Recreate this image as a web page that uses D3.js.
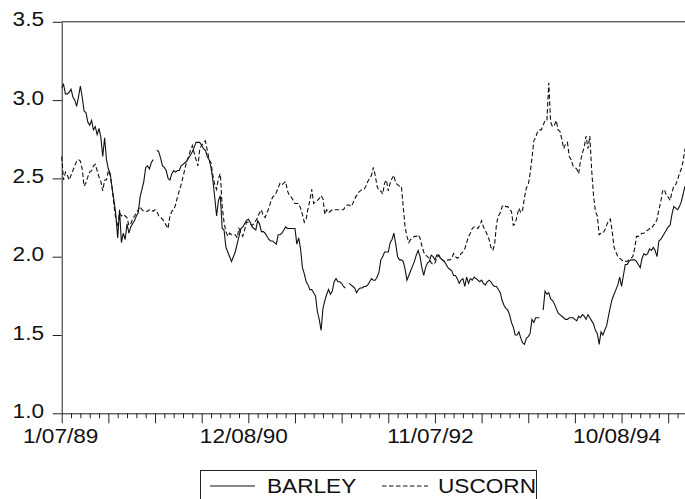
<!DOCTYPE html>
<html>
<head>
<meta charset="utf-8">
<script src="https://cdn.jsdelivr.net/npm/d3@7"></script>
<style>
  html, body { margin: 0; padding: 0; background: #fff; }
  svg { display: block; }
  text { font-family: "Liberation Sans", Arial, Helvetica, sans-serif; fill: #111; }
</style>
</head>
<body>
<svg id="chart" width="685" height="499"></svg>
<script>
// Weekly prices, first observation 1/07/89 (null = missing week)
const barley = [
  3.08,3.10,3.04,3.04,3.05,3.07,3.02,3.00,2.96,3.02,
  3.09,3.02,2.93,2.92,2.86,2.84,2.87,2.81,2.83,2.78,
  2.82,2.76,2.64,2.76,2.62,2.56,2.53,2.44,2.36,2.27,
  2.12,2.30,2.09,2.15,2.11,2.21,2.15,2.19,2.21,2.23,
  2.26,2.28,2.38,2.43,2.48,2.57,2.58,2.56,2.60,2.62,
  null,2.68,2.67,2.63,2.58,2.57,2.55,2.50,2.49,2.53,
  2.55,2.54,2.55,2.55,2.58,2.59,2.60,2.61,2.63,2.65,
  2.67,2.70,2.73,2.73,2.73,2.71,2.69,2.68,2.64,2.62,
  2.57,2.49,2.38,2.26,2.36,2.39,2.18,2.17,2.06,2.03,
  2.00,1.97,2.00,2.03,2.08,2.13,2.18,2.19,2.21,2.23,
  2.24,2.22,2.19,2.18,2.17,2.23,2.21,2.16,2.16,2.15,
  2.13,2.11,2.10,2.10,2.09,2.08,2.14,2.14,2.15,2.17,
  2.19,2.18,2.18,2.18,2.18,2.18,2.08,2.12,2.05,1.93,
  1.89,1.84,1.82,1.79,1.79,1.77,1.75,1.65,1.60,1.53,
  1.67,1.72,1.76,1.79,1.76,1.78,1.84,1.86,1.84,1.84,
  1.83,1.81,1.80,null,1.83,1.82,1.81,1.80,1.77,1.79,
  1.80,1.80,1.81,1.81,1.82,1.84,1.86,1.85,1.85,1.87,
  1.90,1.98,2.00,2.03,2.03,2.03,2.09,2.11,2.15,2.08,
  2.00,1.98,1.98,1.97,1.92,1.85,1.88,1.91,1.94,1.97,
  2.01,2.04,2.00,1.93,1.88,1.93,1.96,1.97,2.01,2.00,
  1.98,2.01,2.01,1.99,1.98,1.97,1.95,1.93,1.92,1.91,
  1.88,1.88,1.86,1.83,1.85,1.86,1.81,1.87,1.83,1.86,
  1.85,1.87,1.86,1.85,1.84,1.85,1.83,1.82,1.84,1.85,
  1.84,1.82,1.81,1.81,1.79,1.77,1.72,1.69,1.67,1.66,
  1.63,1.58,1.55,1.50,1.50,1.52,1.48,1.45,1.44,1.48,
  1.49,1.51,1.60,1.58,1.61,1.61,1.61,null,1.66,1.78,
  1.76,1.77,1.73,1.72,1.70,1.67,1.64,1.63,1.62,1.61,
  1.60,1.60,1.61,1.61,1.61,1.60,1.59,1.62,1.61,1.63,
  1.62,1.60,1.63,1.61,1.59,1.57,1.53,1.51,1.44,1.52,
  1.50,1.53,1.56,1.62,1.68,1.73,1.76,1.79,1.82,1.87,
  1.81,1.88,1.95,1.95,1.97,1.98,1.98,1.98,1.97,1.95,
  1.93,1.99,2.02,2.01,2.02,2.05,2.04,2.06,2.04,2.00,
  2.10,2.11,2.13,2.15,2.17,2.19,2.20,2.27,2.32,2.31,
  2.30,2.32,2.35,2.40,2.45
];

const uscorn = [
  2.64,2.49,2.54,2.52,2.49,2.52,2.55,2.58,2.61,2.62,
  2.61,2.56,2.45,2.47,2.51,2.54,2.55,2.58,2.59,2.55,
  2.51,2.48,2.42,2.49,2.49,2.55,2.52,2.44,2.33,2.24,
  2.19,2.28,2.26,2.27,2.26,2.25,2.20,2.21,2.24,2.26,
  2.28,2.30,2.32,2.30,2.29,2.29,2.29,2.30,2.30,2.29,
  2.30,2.29,2.26,2.25,2.24,2.22,2.20,2.18,2.26,2.29,
  2.30,2.33,2.38,2.42,2.46,2.51,2.56,2.61,2.64,2.68,
  2.71,2.66,2.62,2.58,2.69,2.71,2.73,2.74,2.68,2.62,
  2.60,2.52,2.46,2.43,2.50,2.53,2.32,2.22,2.16,2.13,
  2.15,2.14,2.14,2.14,2.12,2.18,2.15,2.13,2.17,2.22,
  2.22,2.21,2.20,2.21,2.23,2.25,2.28,2.30,2.26,2.25,
  2.28,2.31,2.35,2.38,2.39,2.41,2.44,2.47,2.46,2.47,
  2.48,2.42,2.39,2.38,2.36,2.34,2.34,2.34,2.31,2.27,
  2.22,2.24,2.31,2.36,2.43,2.34,2.35,2.36,2.37,2.39,
  2.37,2.27,2.30,2.28,2.29,2.30,2.30,2.30,2.30,2.30,
  2.30,2.30,2.32,2.33,2.33,2.32,2.34,2.37,2.39,2.41,
  2.42,2.43,2.43,2.45,2.48,2.50,2.52,2.57,2.52,2.45,
  2.42,2.42,2.40,2.47,2.49,2.42,2.47,2.50,2.52,2.47,
  2.46,2.45,2.45,2.32,2.19,2.13,2.09,2.11,2.12,2.13,
  2.13,2.14,2.12,2.07,2.03,2.01,2.00,1.99,1.96,1.95,
  1.96,1.99,2.01,1.99,1.98,1.97,1.97,1.98,1.98,1.99,
  2.02,2.00,1.99,2.00,2.02,2.03,2.05,2.09,2.13,2.15,
  2.18,2.19,2.19,2.18,2.20,2.23,2.19,2.17,2.14,2.11,
  2.06,2.04,2.08,2.21,2.26,2.28,2.32,2.33,2.32,2.32,
  2.30,2.29,2.20,2.21,2.26,2.31,2.28,2.30,2.38,2.44,
  2.46,2.53,2.63,2.74,2.76,2.80,2.81,2.81,2.84,2.87,
  2.87,3.11,2.86,2.83,2.84,2.87,2.81,2.80,2.75,2.69,
  2.72,2.73,2.64,2.62,2.58,2.57,2.56,2.53,2.61,2.66,
  2.70,2.77,2.69,2.77,2.55,2.39,2.29,2.26,2.14,2.15,
  2.15,2.17,2.20,2.23,2.24,2.16,2.06,2.03,2.00,1.99,
  1.98,1.97,1.97,1.97,1.98,1.99,2.00,2.05,2.13,2.13,
  2.14,2.15,2.15,2.16,2.17,2.18,2.18,2.20,2.21,2.24,
  2.30,2.35,2.42,2.43,2.39,2.38,2.36,2.41,2.45,2.46,
  2.49,2.53,2.56,2.61,2.69
];

const seriesNames = ["BARLEY", "USCORN"];
const dateLabels = ["1/07/89", "12/08/90", "11/07/92", "10/08/94"];
const dateLabelIndex = [0, 100, 200, 300];
const yTicks = [1.0, 1.5, 2.0, 2.5, 3.0, 3.5];

(function draw() {
  const svg = d3.select("#chart");
  const pL = 61.7, pR = 685, pT = 21.8, pB = 413.3;
  const n = barley.length;
  const SX = 1.16;        // horizontal stretch of the label face
  const FS = 19.5;        // label font size

  const x = d3.scaleLinear().domain([0, n - 1]).range([pL, pR]);
  const y = d3.scaleLinear().domain([1.0, 3.5]).range([pB, pT]);

  // stretched text at a point
  function label(g, px, py, str, anchor) {
    return g.append("g").attr("transform", `translate(${px},${py}) scale(${SX},1)`)
      .append("text")
      .attr("font-size", FS)
      .attr("text-anchor", anchor)
      .text(str);
  }

  // frame: top edge
  svg.append("line").attr("x1", pL).attr("x2", pR).attr("y1", pT).attr("y2", pT)
    .attr("stroke", "#222").attr("stroke-width", 1);

  // y axis
  const yAxis = svg.append("g").attr("transform", `translate(${pL},0)`)
    .call(d3.axisLeft(y).tickValues(yTicks).tickSize(9).tickSizeOuter(0).tickFormat(""));
  yAxis.selectAll("path, line").attr("stroke", "#222");
  yTicks.forEach(v => label(svg, 44, y(v) + 4.5, d3.format(".1f")(v), "end"));

  // x axis: minor ticks every 5 weeks, major every 25
  const minor = d3.range(0, n, 5).filter(i => i % 25 !== 0);
  const major = d3.range(0, n, 25);
  const xMinor = svg.append("g").attr("transform", `translate(0,${pB})`)
    .call(d3.axisBottom(x).tickValues(minor).tickSize(5).tickSizeOuter(0).tickFormat(""));
  const xMajor = svg.append("g").attr("transform", `translate(0,${pB})`)
    .call(d3.axisBottom(x).tickValues(major).tickSize(10).tickSizeOuter(0).tickFormat(""));
  xMinor.selectAll("path, line").attr("stroke", "#222");
  xMajor.selectAll("path, line").attr("stroke", "#222");
  xMajor.select("path").remove();
  dateLabels.forEach((s, k) => {
    const i = dateLabelIndex[k];
    label(svg, x(i) - (i === 0 ? 1 : 4.5), 443.3, s, "middle");
  });

  // series
  const line = d3.line()
    .defined(d => d != null)
    .x((d, i) => x(i))
    .y(d => y(d));

  svg.append("path").datum(barley)
    .attr("d", line).attr("fill", "none")
    .attr("stroke", "#111").attr("stroke-width", 1.1);

  svg.append("path").datum(uscorn)
    .attr("d", line).attr("fill", "none")
    .attr("stroke", "#111").attr("stroke-width", 1.1)
    .attr("stroke-dasharray", "4.5,2.5");

  // legend
  const lg = svg.append("g");
  lg.append("rect").attr("x", 200.5).attr("y", 470.5).attr("width", 336).attr("height", 40)
    .attr("fill", "none").attr("stroke", "#222").attr("stroke-width", 1);
  lg.append("line").attr("x1", 210).attr("x2", 255).attr("y1", 486).attr("y2", 486)
    .attr("stroke", "#111").attr("stroke-width", 1.1);
  label(lg, 267, 492.7, seriesNames[0], "start");
  lg.append("line").attr("x1", 382).attr("x2", 428).attr("y1", 486).attr("y2", 486)
    .attr("stroke", "#111").attr("stroke-width", 1.1).attr("stroke-dasharray", "4.5,2.5");
  label(lg, 438, 492.7, seriesNames[1], "start");
})();
</script>
</body>
</html>
